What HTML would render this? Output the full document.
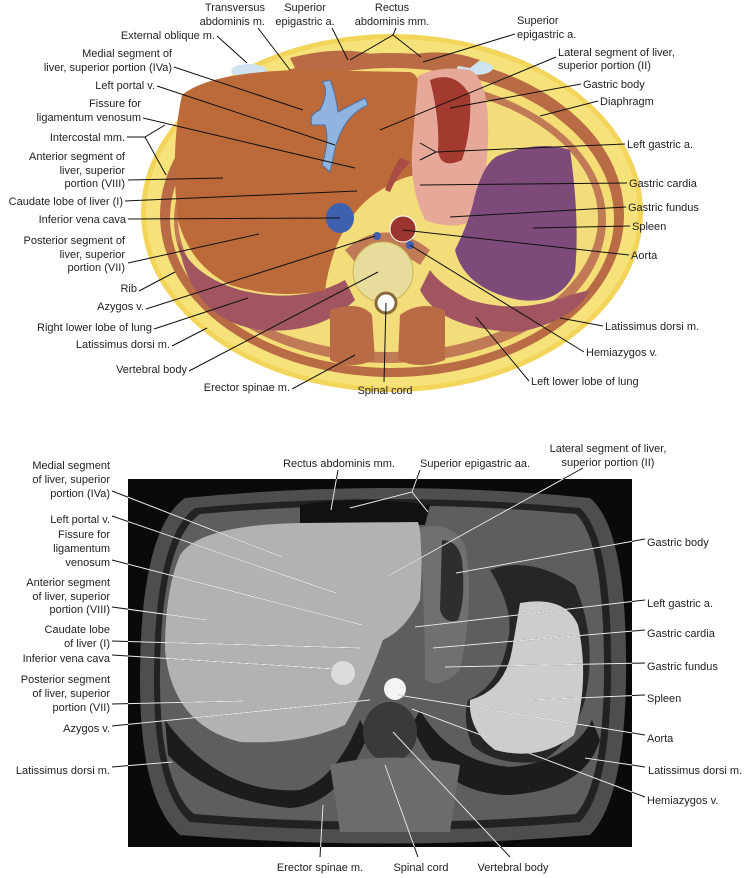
<!DOCTYPE html>
<html><head><meta charset="utf-8"><style>
body{margin:0;background:#fff}
svg{display:block}
text{font-family:"Liberation Sans",sans-serif;font-size:11px;fill:#222}
.r{text-anchor:end}.c{text-anchor:middle}
.k line,.k polyline{stroke:#111;stroke-width:1;fill:none}
#ld line,#ld polyline{fill:none}
</style></head><body>
<svg width="745" height="878" viewBox="0 0 745 878">
<defs>
<clipPath id="cr"><rect x="128" y="479" width="504" height="368"/></clipPath>
<g id="ld">
<line x1="112" y1="491" x2="282" y2="557"/>
<line x1="112" y1="516" x2="336" y2="593"/>
<line x1="112" y1="560" x2="362" y2="625"/>
<line x1="112" y1="607" x2="207" y2="620"/>
<line x1="112" y1="641" x2="360" y2="648"/>
<line x1="112" y1="655" x2="335" y2="669"/>
<line x1="112" y1="704" x2="243" y2="701"/>
<line x1="112" y1="726" x2="370" y2="700"/>
<line x1="112" y1="767" x2="172" y2="762"/>
<line x1="338" y1="470" x2="331" y2="510"/>
<polyline points="420,470 412,492 350,508"/><line x1="412" y1="492" x2="428" y2="512"/>
<line x1="583" y1="468" x2="388" y2="576"/>
<line x1="645" y1="539" x2="456" y2="573"/>
<line x1="645" y1="600" x2="415" y2="627"/>
<line x1="645" y1="630" x2="433" y2="648"/>
<line x1="645" y1="663" x2="445" y2="667"/>
<line x1="645" y1="695" x2="530" y2="700"/>
<line x1="645" y1="735" x2="398" y2="695"/>
<line x1="645" y1="767" x2="585" y2="758"/>
<line x1="645" y1="797" x2="412" y2="709"/>
<line x1="320" y1="857" x2="323" y2="805"/>
<line x1="418" y1="857" x2="385" y2="765"/>
<line x1="510" y1="857" x2="393" y2="732"/>
</g>
</defs>
<!-- TOP ILLUSTRATION -->
<ellipse cx="392" cy="213" rx="251" ry="179" fill="#f2d55a"/>
<ellipse cx="392" cy="213" rx="246" ry="174" fill="#f6e27a"/>
<ellipse cx="392" cy="215" rx="232" ry="162" fill="#b86b45"/>
<ellipse cx="392" cy="218" rx="222" ry="150" fill="#f4dd74"/>
<ellipse cx="390" cy="220" rx="216" ry="143" fill="#c07a55"/>
<ellipse cx="388" cy="218" rx="210" ry="134" fill="#f3dc7a"/>
<ellipse cx="249" cy="71" rx="18" ry="7" fill="#cfe2f0"/>
<ellipse cx="475" cy="68" rx="18" ry="7" fill="#cfe2f0"/>
<path d="M290 58 Q340 45 375 55 L370 66 Q330 60 295 68Z" fill="#b86b45"/>
<path d="M410 55 Q445 48 480 60 L470 68 Q440 62 410 66Z" fill="#b86b45"/>
<path d="M178 240 Q190 320 260 330 Q320 335 355 300 L345 280 Q300 305 240 290 Q190 275 178 240Z" fill="#a05560"/>
<path d="M420 290 Q440 330 520 332 Q575 320 590 290 L570 295 Q520 315 470 300 Q440 285 430 270Z" fill="#a05560"/>
<path d="M182 95 Q210 72 300 70 L410 72 Q420 75 418 90 L415 175 Q400 178 388 186 Q360 200 345 228 Q330 255 325 290 Q280 300 230 285 Q190 265 178 220 Q170 150 182 95Z" fill="#bc6a3a"/>
<path d="M322 82 Q330 90 320 110 Q308 115 312 125 L325 125 Q330 140 322 165 L330 172 L336 145 Q345 115 368 105 L365 98 Q345 108 338 112 Q336 95 330 80Z" fill="#8fb4e0" stroke="#4f6fa0"/>
<path d="M418 76 Q440 65 470 70 Q490 80 488 140 Q485 200 478 218 Q455 232 425 220 Q410 190 412 150Z" fill="#e6a898"/>
<path d="M430 80 Q455 70 470 95 Q472 130 462 160 Q440 170 438 150 Q440 120 430 80Z" fill="#a23a30"/>
<path d="M500 155 Q540 140 570 150 Q580 220 575 272 Q560 305 520 300 Q465 290 455 250 Q470 220 475 195 Q485 160 500 155Z" fill="#7e4a7a"/>
<path d="M400 158 Q392 170 385 190 L390 192 Q397 175 410 162Z" fill="#a94c44"/>
<ellipse cx="340" cy="218" rx="14" ry="15" fill="#3f5fb0"/>
<path d="M345 250 Q385 215 430 250 L420 265 Q385 240 355 262Z" fill="#c07a55"/>
<circle cx="403" cy="229" r="13" fill="#9a3530" stroke="#fff"/>
<circle cx="377" cy="236" r="4" fill="#3f5fb0"/>
<circle cx="410" cy="245" r="4" fill="#3f5fb0"/>
<circle cx="383" cy="272" r="30" fill="#e8dc9c" stroke="#c9b85a"/>
<circle cx="386" cy="303" r="10" fill="#fff" stroke="#8a6a3a" stroke-width="3"/>
<path d="M330 310 Q360 300 372 315 L375 360 Q350 370 330 360Z" fill="#b86b45"/>
<path d="M400 315 Q420 300 445 310 L445 360 Q420 370 398 360Z" fill="#b86b45"/>
<g class="k">
<line x1="217" y1="36" x2="247" y2="63"/>
<line x1="258" y1="28" x2="290" y2="70"/>
<line x1="332" y1="28" x2="348" y2="60"/>
<polyline points="396,28 393,35 421,57"/><line x1="393" y1="35" x2="350" y2="60"/>
<line x1="515" y1="34" x2="423" y2="62"/>
<line x1="174" y1="67" x2="303" y2="110"/>
<line x1="556" y1="57" x2="380" y2="130"/>
<line x1="157" y1="86" x2="335" y2="145"/>
<line x1="581" y1="84" x2="450" y2="108"/>
<line x1="598" y1="101" x2="540" y2="116"/>
<line x1="143" y1="118" x2="355" y2="168"/>
<polyline points="127,137 145,137 165,125"/><line x1="145" y1="137" x2="166" y2="175"/>
<line x1="625" y1="144" x2="436" y2="152"/><polyline points="436,152 420,143"/><polyline points="436,152 420,160"/>
<line x1="128" y1="180" x2="223" y2="178"/>
<line x1="627" y1="183" x2="420" y2="185"/>
<line x1="125" y1="201" x2="357" y2="191"/>
<line x1="626" y1="207" x2="450" y2="217"/>
<line x1="128" y1="219" x2="340" y2="218"/>
<line x1="630" y1="226" x2="533" y2="228"/>
<line x1="128" y1="263" x2="259" y2="234"/>
<line x1="629" y1="255" x2="403" y2="230"/>
<line x1="139" y1="291" x2="175" y2="272"/>
<line x1="146" y1="309" x2="375" y2="236"/>
<line x1="154" y1="329" x2="248" y2="298"/>
<line x1="603" y1="326" x2="560" y2="318"/>
<line x1="172" y1="346" x2="207" y2="328"/>
<line x1="189" y1="371" x2="378" y2="272"/>
<line x1="584" y1="352" x2="410" y2="245"/>
<line x1="292" y1="389" x2="355" y2="355"/>
<line x1="529" y1="381" x2="476" y2="317"/>
<line x1="384" y1="382" x2="386" y2="303"/>
</g>
<text x="265" y="11" class="r">Transversus</text><text x="265" y="25" class="r">abdominis m.</text>
<text x="305" y="11" class="c">Superior</text><text x="305" y="25" class="c">epigastric a.</text>
<text x="392" y="11" class="c">Rectus</text><text x="392" y="25" class="c">abdominis mm.</text>
<text x="517" y="24">Superior</text><text x="517" y="38">epigastric a.</text>
<text x="215" y="39" class="r">External oblique m.</text>
<text x="172" y="57" class="r">Medial segment of</text><text x="172" y="71" class="r">liver, superior portion (IVa)</text>
<text x="558" y="56">Lateral segment of liver,</text><text x="558" y="69">superior portion (II)</text>
<text x="155" y="89" class="r">Left portal v.</text>
<text x="583" y="88">Gastric body</text>
<text x="600" y="105">Diaphragm</text>
<text x="141" y="107" class="r">Fissure for</text><text x="141" y="121" class="r">ligamentum venosum</text>
<text x="125" y="141" class="r">Intercostal mm.</text>
<text x="627" y="148">Left gastric a.</text>
<text x="125" y="160" class="r">Anterior segment of</text><text x="125" y="174" class="r">liver, superior</text><text x="125" y="187" class="r">portion (VIII)</text>
<text x="629" y="187">Gastric cardia</text>
<text x="123" y="205" class="r">Caudate lobe of liver (I)</text>
<text x="628" y="211">Gastric fundus</text>
<text x="126" y="223" class="r">Inferior vena cava</text>
<text x="632" y="230">Spleen</text>
<text x="125" y="244" class="r">Posterior segment of</text><text x="125" y="258" class="r">liver, superior</text><text x="125" y="271" class="r">portion (VII)</text>
<text x="631" y="259">Aorta</text>
<text x="137" y="292" class="r">Rib</text>
<text x="144" y="310" class="r">Azygos v.</text>
<text x="152" y="331" class="r">Right lower lobe of lung</text>
<text x="605" y="330">Latissimus dorsi m.</text>
<text x="170" y="348" class="r">Latissimus dorsi m.</text>
<text x="586" y="356">Hemiazygos v.</text>
<text x="187" y="373" class="r">Vertebral body</text>
<text x="290" y="391" class="r">Erector spinae m.</text>
<text x="531" y="385">Left lower lobe of lung</text>
<text x="385" y="394" class="c">Spinal cord</text>

<!-- BOTTOM MRI -->
<rect x="128" y="479" width="504" height="368" fill="#0a0a0a"/>
<path d="M185 498 Q390 478 590 498 Q628 530 626 680 Q624 800 590 835 Q390 852 180 835 Q140 800 140 680 Q140 530 185 498Z" fill="#4e4e4e"/>
<path d="M195 508 Q390 490 580 508 Q613 538 611 680 Q609 792 580 822 Q390 838 190 822 Q154 792 154 680 Q154 538 195 508Z" fill="#222"/>
<path d="M200 514 Q390 497 576 514 Q605 542 604 680 Q602 785 576 814 Q390 830 194 814 Q160 785 160 680 Q160 542 200 514Z" fill="#5e5e5e"/>
<path d="M300 505 Q360 495 430 505 L425 525 L300 525Z" fill="#111"/>
<path d="M165 720 Q220 795 300 790 Q335 780 360 720 L368 735 Q340 805 290 808 Q210 800 168 755Z" fill="#1c1c1c"/>
<path d="M180 555 Q200 525 300 523 L418 522 Q424 540 420 600 Q405 630 383 640 Q365 690 345 725 Q300 745 240 742 Q172 725 165 650 Q165 590 180 555Z" fill="#b2b2b2"/>
<path d="M412 725 Q440 795 510 795 Q585 790 600 740 L592 720 Q570 762 510 767 Q450 762 420 710Z" fill="#1c1c1c"/>
<path d="M420 528 Q450 520 465 545 Q475 600 460 670 Q440 690 425 680 Q425 620 420 528Z" fill="#707070"/>
<path d="M442 540 Q458 540 462 560 Q466 600 458 620 Q445 625 440 610Z" fill="#2e2e2e"/>
<path d="M490 570 Q530 555 575 585 Q598 640 585 700 Q572 745 540 762 Q495 766 472 745 Q462 720 468 700 Q500 685 508 640 Q515 610 490 570Z" fill="#262626"/>
<path d="M520 603 Q565 595 578 625 Q590 680 574 735 Q540 762 495 750 Q468 730 470 700 Q505 690 512 650Z" fill="#cdcdcd"/>
<circle cx="343" cy="673" r="12" fill="#dcdcdc"/>
<ellipse cx="390" cy="732" rx="27" ry="30" fill="#3a3a3a"/>
<circle cx="395" cy="689" r="11" fill="#f4f4f4"/>
<path d="M330 765 Q390 750 460 765 L450 832 L340 832Z" fill="#6c6c6c"/>
<use href="#ld" stroke="#111" stroke-width="1"/>
<use href="#ld" stroke="#eee" stroke-width="1" clip-path="url(#cr)"/>
<text x="110" y="469" class="r">Medial segment</text><text x="110" y="483" class="r">of liver, superior</text><text x="110" y="497" class="r">portion (IVa)</text>
<text x="339" y="467" class="c">Rectus abdominis mm.</text>
<text x="420" y="467">Superior epigastric aa.</text>
<text x="608" y="452" class="c">Lateral segment of liver,</text><text x="608" y="466" class="c">superior portion (II)</text>
<text x="110" y="523" class="r">Left portal v.</text>
<text x="110" y="538" class="r">Fissure for</text><text x="110" y="552" class="r">ligamentum</text><text x="110" y="566" class="r">venosum</text>
<text x="647" y="546">Gastric body</text>
<text x="110" y="586" class="r">Anterior segment</text><text x="110" y="600" class="r">of liver, superior</text><text x="110" y="613" class="r">portion (VIII)</text>
<text x="647" y="607">Left gastric a.</text>
<text x="110" y="633" class="r">Caudate lobe</text><text x="110" y="647" class="r">of liver (I)</text>
<text x="647" y="637">Gastric cardia</text>
<text x="110" y="662" class="r">Inferior vena cava</text>
<text x="647" y="670">Gastric fundus</text>
<text x="110" y="683" class="r">Posterior segment</text><text x="110" y="697" class="r">of liver, superior</text><text x="110" y="711" class="r">portion (VII)</text>
<text x="647" y="702">Spleen</text>
<text x="110" y="732" class="r">Azygos v.</text>
<text x="647" y="742">Aorta</text>
<text x="110" y="774" class="r">Latissimus dorsi m.</text>
<text x="648" y="774">Latissimus dorsi m.</text>
<text x="647" y="804">Hemiazygos v.</text>
<text x="320" y="871" class="c">Erector spinae m.</text>
<text x="421" y="871" class="c">Spinal cord</text>
<text x="513" y="871" class="c">Vertebral body</text>
</svg>
</body></html>
